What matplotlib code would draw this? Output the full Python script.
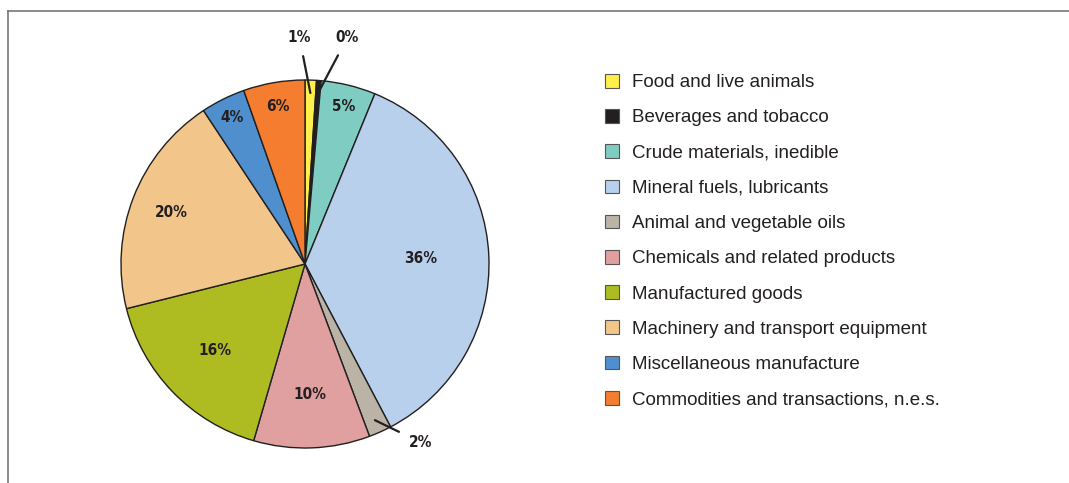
import numpy as np
import matplotlib.pyplot as plt
from matplotlib.lines import Line2D

categories = ["Food and live animals", "Beverages and tobacco", "Crude materials, inedible",
              "Mineral fuels, lubricants", "Animal and vegetable oils", "Chemicals and related products",
              "Manufactured goods", "Machinery and transport equipment", "Miscellaneous manufacture",
              "Commodities and transactions, n.e.s."]
shares = [1.0, 0.4, 4.8, 36.1, 2.0, 10.2, 16.6, 19.6, 3.9, 5.4]
labels = ["1%", "0%", "5%", "36%", "2%", "10%", "16%", "20%", "4%", "6%"]
colors = ["#FFEF4A", "#231F20", "#7FCDC2", "#B8D0EC", "#BBB3A6",
          "#E0A0A0", "#AEBC21", "#F2C68A", "#4F8FCD", "#F47D30"]

# label radius per slice, None = outside label with leader line
label_r = [None, None, 0.88, 0.63, None, 0.71, 0.68, 0.78, 0.89, 0.87]
outside = {0: (-0.03, 1.23), 1: (0.23, 1.23), 4: (0.63, -0.97)}

W, H = 1069, 483
fig = plt.figure(figsize=(W / 100, H / 100), dpi=100)
cx, cy, r = 305, 264, 184
ax = fig.add_axes([(cx - r) / W, 1 - (cy + r) / H, 2 * r / W, 2 * r / H])

wedges, _ = ax.pie(shares, colors=colors, startangle=90, counterclock=False,
                   wedgeprops=dict(edgecolor="#231F20", linewidth=1.0))
ax.set_xlim(-1, 1)
ax.set_ylim(-1, 1)
ax.set_aspect("equal")
ax.axis("off")

lab_font = dict(family="DejaVu Sans", fontstretch="condensed", fontweight="bold",
                fontsize=11, color="#231F20")
for i, w in enumerate(wedges):
    ang = np.deg2rad((w.theta1 + w.theta2) / 2)
    if label_r[i] is not None:
        d = label_r[i]
        ax.text(d * np.cos(ang), d * np.sin(ang), labels[i], ha="center", va="center", **lab_font)
    else:
        tx, ty = outside[i]
        ax.annotate(labels[i], xy=(0.93 * np.cos(ang), 0.93 * np.sin(ang)), xytext=(tx, ty),
                    ha="center", va="center", annotation_clip=False,
                    arrowprops=dict(arrowstyle="-", color="#231F20", lw=1.6,
                                    shrinkA=6, shrinkB=0), **lab_font)

leg = fig.legend(wedges, categories, loc="upper left", bbox_to_anchor=(588 / W, 1 - 57 / H),
                 frameon=False, handlelength=0.75, handleheight=0.75,
                 handletextpad=0.7, labelspacing=0.95, prop=dict(family="Liberation Sans", size=13.5))
for t in leg.get_texts():
    t.set_color("#231F20")
for h in leg.legend_handles:
    h.set_linewidth(0.8)
    h.set_edgecolor("#555555")

# panel border (top and left edges)
fig.add_artist(Line2D([8 / W, 1], [1 - 10.5 / H] * 2, transform=fig.transFigure, color="#777777", lw=1.2))
fig.add_artist(Line2D([8 / W] * 2, [0, 1 - 10.5 / H], transform=fig.transFigure, color="#777777", lw=1.2))

fig.savefig("out.png", dpi=100)
